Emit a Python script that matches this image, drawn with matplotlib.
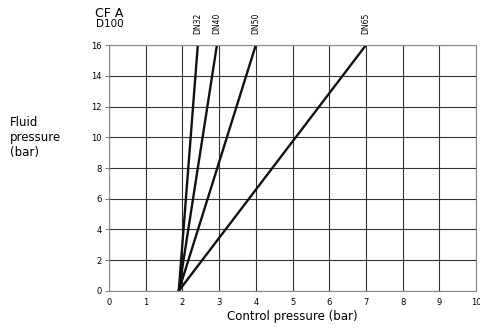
import matplotlib
matplotlib.use("Agg")
import matplotlib.pyplot as plt

series_names = ["DN32", "DN40", "DN50", "DN65"]
start_x = [1.9, 1.9, 1.9, 1.9]
start_y = [0, 0, 0, 0]
end_x = [2.42, 2.94, 4.0, 7.0]
end_y = [16, 16, 16, 16]
x_ticks = list(range(0, 11))
y_ticks = list(range(0, 17, 2))

fig = plt.figure(figsize=(4.8, 3.36), dpi=100)
ax = fig.add_axes([0.227, 0.134, 0.765, 0.732])
ax.set_xlim(0, 10)
ax.set_ylim(0, 16)
ax.set_xticks(x_ticks)
ax.set_yticks(y_ticks)
ax.set_xticklabels([str(t) for t in x_ticks], fontsize=6)
ax.set_yticklabels([str(t) for t in y_ticks], fontsize=6)
ax.tick_params(axis='x', length=0, pad=5)
ax.tick_params(axis='y', length=3, width=0.6, color='#666666', pad=2)
ax.grid(True, color='#333333', linewidth=0.8)
for s in ax.spines.values():
    s.set_color('#888888')
    s.set_linewidth(0.8)
ax.set_axisbelow(True)

for name, x0, y0, x1, y1 in zip(series_names, start_x, start_y, end_x, end_y):
    ax.plot([x0, x1], [y0, y1], color='#111111', linewidth=1.7, solid_capstyle='butt')
    ax.annotate(name, xy=(x1, y1), xytext=(0, 8), textcoords='offset points',
                rotation=90, ha='center', va='bottom', fontsize=5.5)

fig.text(0.228, 0.960, "CF A", fontsize=9, ha='center', va='center')
fig.text(0.228, 0.930, "D100", fontsize=7.5, ha='center', va='center')
fig.text(0.02, 0.59, "Fluid\npressure\n(bar)", fontsize=8.5, ha='left', va='center', linespacing=1.2)
fig.text(0.608, 0.058, "Control pressure (bar)", fontsize=8.5, ha='center', va='center')

fig.savefig("out.png", dpi=100)
